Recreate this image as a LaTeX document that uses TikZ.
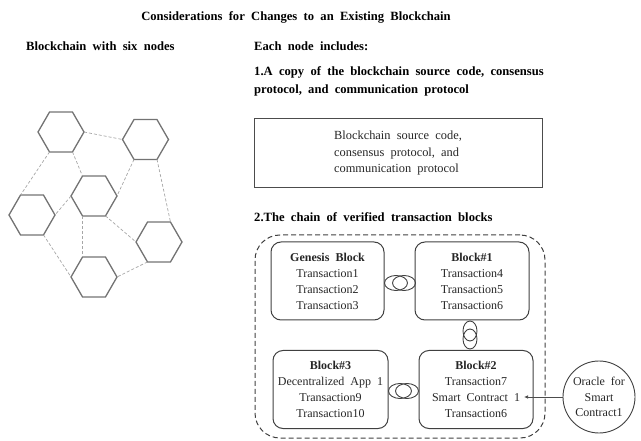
\documentclass[tikz,border=0pt]{standalone}
\usepackage{fontspec}
\setmainfont{Liberation Serif}[WordSpace=2]
\usetikzlibrary{shapes.geometric,arrows.meta}
\tikzset{
  x=1pt,y=-1pt,
  hex/.style={draw=black!55,line width=1.3pt,regular polygon,regular polygon sides=6,minimum size=46pt,inner sep=0pt,outer sep=0pt},
  link/.style={draw=black!35,dashed,dash pattern=on 3pt off 2pt,line width=0.7pt},
  head/.style={font=\bfseries\fontsize{12.6}{18}\selectfont,inner sep=0pt},
  body/.style={font=\fontsize{12}{16}\selectfont,text=black!85},
  srcbox/.style={draw=black!70,line width=1pt,minimum width=288pt,minimum height=69pt,align=left,body,font=\fontsize{12.4}{16.5}\selectfont},
  chainbox/.style={draw=black!75,line width=1pt,dash pattern=on 5pt off 3pt,rounded corners=25pt,minimum width=290pt,minimum height=203pt},
  blockbox/.style={draw=black!75,line width=1pt,rounded corners=10pt,minimum height=78pt,align=center,inner sep=1pt,body},
  hring/.style={draw=black!75,line width=0.9pt,ellipse,minimum width=23pt,minimum height=15pt,inner sep=0pt},
  vring/.style={draw=black!75,line width=0.9pt,ellipse,minimum width=14pt,minimum height=20pt,inner sep=0pt},
  oracle/.style={draw=black!75,line width=0.9pt,circle,minimum size=72pt,inner sep=0pt,align=center,body,font=\fontsize{12}{15.5}\selectfont},
}
\begin{document}
\begin{tikzpicture}
\useasboundingbox (0,0) rectangle (641,441);
% titles
\node[head] (title) at (296,17) {Considerations for Changes to an Existing Blockchain};
\node[head,anchor=west] (lefthead) at (26,46) {Blockchain with six nodes};
\node[head,anchor=west] (righthead) at (254,46) {Each node includes:};
\node[head,anchor=west,align=left] (item1) at (254,81) {1.A copy of the blockchain source code, consensus\\protocol, and communication protocol};
\node[srcbox] (src) at (398,153.5) {Blockchain source code,\\consensus protocol, and\\communication protocol};
\node[head,anchor=west] (item2) at (254,217) {2.The chain of verified transaction blocks};
% hexagons
\node[hex] (h1) at (61,132) {};
\node[hex] (h2) at (145.5,139.5) {};
\node[hex] (h3) at (94,196) {};
\node[hex] (h4) at (32,215) {};
\node[hex] (h5) at (159,242) {};
\node[hex] (h6) at (94,277) {};
\draw[link] (h1.0) -- (h2.180);
\draw[link] (h1.-120) -- (h4.120);
\draw[link] (h1.-60) -- (h3.120);
\draw[link] (h2.-120) -- (h3.0);
\draw[link] (h2.-60) -- (h5.60);
\draw[link] (h3.180) -- (h4.0);
\draw[link] (h3.-120) -- (h6.120);
\draw[link] (h3.-60) -- (h5.180);
\draw[link] (h4.-60) -- (h6.180);
\draw[link] (h5.-120) -- (h6.0);
% chain
\node[chainbox] (chain) at (400,336.5) {};
\node[blockbox,minimum width=113pt] (gen) at (327.5,281) {\textbf{Genesis Block}\\Transaction1\\Transaction2\\Transaction3};
\node[blockbox,minimum width=114pt] (b1) at (472,281) {\textbf{Block\#1}\\Transaction4\\Transaction5\\Transaction6};
\node[blockbox,minimum width=115pt] (b3) at (330.5,389.5) {\textbf{Block\#3}\\Decentralized App 1\\Transaction9\\Transaction10};
\node[blockbox,minimum width=114pt] (b2) at (476,389.5) {\textbf{Block\#2}\\Transaction7\\Smart Contract 1\\Transaction6};
% rings
\node[hring] (r1a) at (396,283) {};
\node[hring] (r1b) at (404,283) {};
\node[vring] (r2a) at (470,331) {};
\node[vring] (r2b) at (470,339) {};
\node[hring] (r3a) at (400,391) {};
\node[hring] (r3b) at (407,391) {};
% oracle
\node[oracle] (orc) at (599,397) {Oracle for\\Smart\\Contract1};
\coordinate (sc) at (524,397);
\draw[black!70,line width=0.7pt,-{Latex[length=4pt,width=3.5pt]}] (orc.west) -- (sc);
\end{tikzpicture}
\end{document}
